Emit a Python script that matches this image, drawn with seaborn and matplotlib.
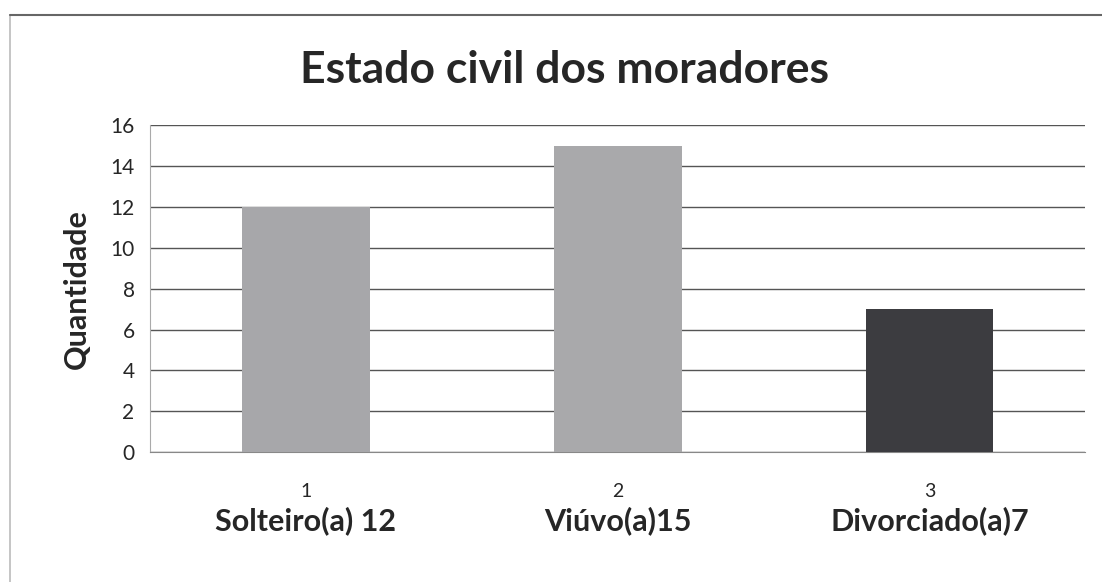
import seaborn as sns
import pandas as pd
import matplotlib.pyplot as plt
from matplotlib.patches import Rectangle
import matplotlib.transforms as mtransforms

posicao = ['1', '2', '3']
estado = ['Solteiro(a) 12', 'Viúvo(a)15', 'Divorciado(a)7']
quantidade = [12, 15, 7]
cores = ['#a7a7aa', '#a9a9ab', '#3c3c40']

df = pd.DataFrame({'posicao': posicao, 'estado': estado, 'quantidade': quantidade})

sns.set_style('white')
plt.rcParams['font.family'] = ['Lato', 'DejaVu Sans']

fig = plt.figure(figsize=(11.02, 5.82), dpi=100)
ax = fig.add_axes([0.136, 0.223, 0.849, 0.562])

sns.barplot(data=df, x='posicao', y='quantidade', hue='posicao', palette=cores,
            legend=False, width=0.41, saturation=1, linewidth=0, ax=ax, zorder=3)

ax.set_ylim(0, 16)
ax.set_yticks(range(0, 17, 2))
ax.yaxis.grid(True, color='#555555', linewidth=1.0)
ax.set_axisbelow(True)
for s in ['top', 'right']:
    ax.spines[s].set_visible(False)
ax.spines['left'].set_color('#aaaaaa')
ax.spines['bottom'].set_color('#888888')
ax.tick_params(axis='y', length=6, color='#555555', labelsize=15, pad=5)
ax.tick_params(axis='x', length=0, labelsize=14, pad=22)
ax.set_xlabel('')
ax.set_ylabel('Quantidade', fontsize=22, fontweight='bold', labelpad=14)

trans = mtransforms.blended_transform_factory(ax.transData, ax.transAxes)
for i, nome in enumerate(estado):
    ax.text(i, -0.21, nome, transform=trans, ha='center', va='center',
            fontsize=22, fontweight='bold')

fig.text(0.512, 0.88, 'Estado civil dos moradores', ha='center', va='center',
         fontsize=32, fontweight='bold')

# moldura do gráfico
fig.patches.append(Rectangle((0.009, -0.01), 1.0, 0.985, transform=fig.transFigure,
                             fill=False, edgecolor='#bbbbbb', linewidth=1.2))
fig.add_artist(plt.Line2D([0.009, 1.0], [0.975, 0.975], color='#666666', linewidth=1.5))

plt.savefig('out.png', dpi=100)
